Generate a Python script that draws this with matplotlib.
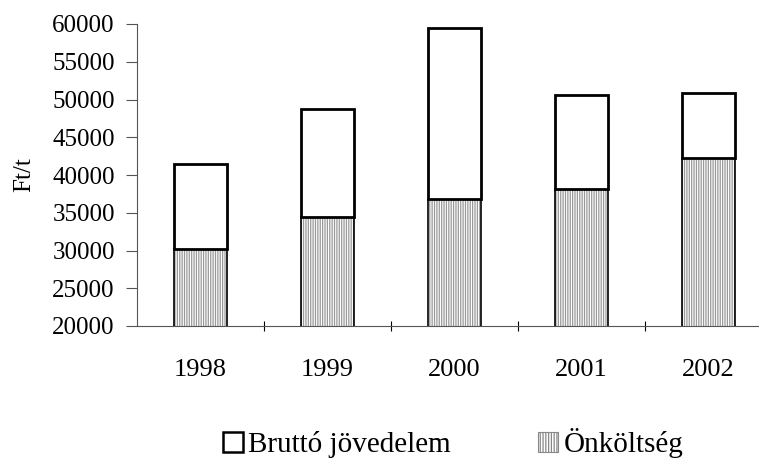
import matplotlib
matplotlib.use("Agg")
import matplotlib.pyplot as plt
from matplotlib.patches import Patch
import numpy as np

# data (Ft/t)
years = ["1998", "1999", "2000", "2001", "2002"]
onkoltseg = [30200, 34400, 36800, 38100, 42200]
brutto_ar = [41400, 48700, 59500, 50600, 50900]   # top of the stacked bar
brutto_jov = [b - o for b, o in zip(brutto_ar, onkoltseg)]

plt.rcParams['font.family'] = ['Liberation Serif', 'DejaVu Serif']
plt.rcParams['hatch.linewidth'] = 0.9

fs = 18

fig = plt.figure(figsize=(7.59, 4.59), dpi=100)
ax = fig.add_axes([137 / 759, 133 / 459, 635 / 759, 302 / 459])

x = np.arange(len(years))
w = 0.41

# lower part: grey vertical stripes
ax.bar(x, onkoltseg, w, color='white', edgecolor='#999999', hatch='|' * 7, linewidth=0)
ax.bar(x, onkoltseg, w, fill=False, edgecolor='black', linewidth=1.2)
# upper part: white
ax.bar(x, brutto_jov, w, bottom=onkoltseg, color='white', edgecolor='black', linewidth=2)

ax.set_xlim(-0.5, len(years) - 0.5)
ax.set_ylim(20000, 60000)
ax.set_yticks(range(20000, 60001, 5000))
ax.set_xticks(x)
ax.set_xticklabels(years)
ax.set_xticks(np.arange(len(years)) + 0.5, minor=True)
ax.tick_params(axis='x', which='major', length=0, pad=24, labelsize=19)
ax.tick_params(axis='x', which='minor', length=7, direction='inout', width=0.8)
ax.tick_params(axis='y', length=8, width=0.8, pad=8, labelsize=fs, color='#555555')

for s in ['top', 'right']:
    ax.spines[s].set_visible(False)
ax.spines['left'].set_color('#555555')
ax.spines['bottom'].set_color('#555555')
ax.spines['left'].set_linewidth(0.8)
ax.spines['bottom'].set_linewidth(0.8)

ax.set_ylabel('Ft/t', fontsize=fs, labelpad=12)

handles = [
    Patch(facecolor='white', edgecolor='black', linewidth=1.8, label='Bruttó jövedelem'),
    Patch(facecolor='white', edgecolor='#888888', hatch='|' * 6, linewidth=0.8, label='Önköltség'),
]
fig.legend(handles=handles, loc='center', bbox_to_anchor=(0.597, 0.035), ncol=2,
           frameon=False, fontsize=21, handlelength=0.69, handleheight=0.69,
           handletextpad=0.17, columnspacing=3.0, borderpad=0)

fig.savefig('out.png', dpi=100)
